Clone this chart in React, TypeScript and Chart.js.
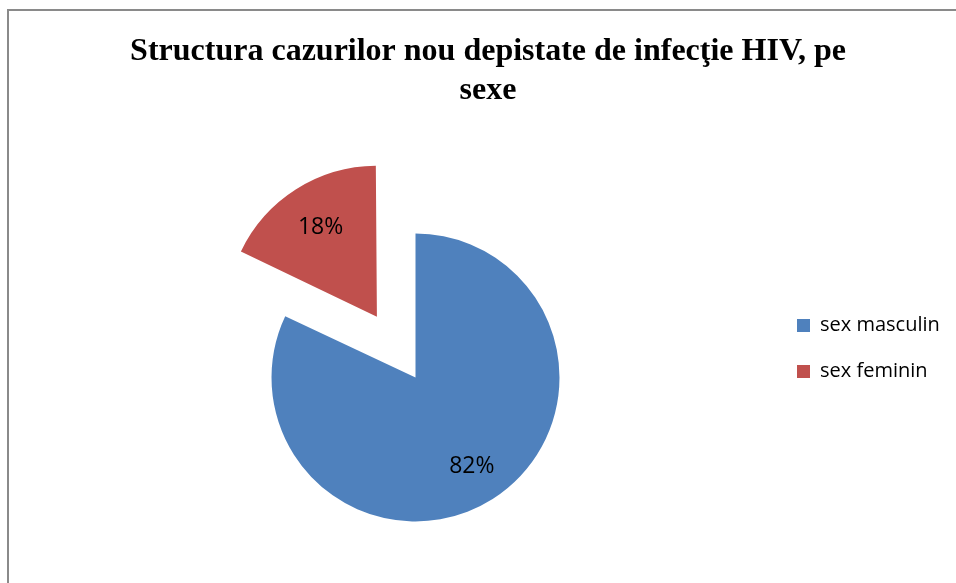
import React, { useEffect, useRef } from "react";
import { Chart, registerables } from "chart.js";

Chart.register(...registerables);

const categories = ["sex masculin", "sex feminin"];
const values = [82, 18];
const valueLabels = ["82%", "18%"];
const colors = ["#4F81BD", "#C0504D"];
const explode = [0, 288];
const titleLines = ["Structura cazurilor nou depistate de infecţie HIV, pe", "sexe"];

const dataLabelPlugin = {
  id: "dataLabels",
  afterDatasetsDraw(chart: any) {
    const ctx = chart.ctx;
    const meta = chart.getDatasetMeta(0);
    ctx.save();
    ctx.font = "23px 'Open Sans'";
    ctx.fillStyle = "#000";
    ctx.textAlign = "center";
    ctx.textBaseline = "middle";
    meta.data.forEach((arc: any, i: number) => {
      const p = arc.getProps(["x", "y", "startAngle", "endAngle", "outerRadius"], true);
      const mid = (p.startAngle + p.endAngle) / 2;
      const off = (arc.options.offset || 0) / 4;
      const cx = p.x + Math.cos(mid) * off;
      const cy = p.y + Math.sin(mid) * off;
      const r = p.outerRadius * 0.73;
      ctx.fillText(valueLabels[i], cx + Math.cos(mid) * r, cy + Math.sin(mid) * r);
    });
    ctx.restore();
  },
};

export default function App() {
  const ref = useRef<HTMLCanvasElement | null>(null);
  useEffect(() => {
    if (!ref.current) return;
    const chart = new Chart(ref.current, {
      type: "pie",
      data: {
        labels: categories,
        datasets: [
          {
            data: values,
            backgroundColor: colors,
            borderWidth: 0,
            offset: explode,
            radius: 144,
          } as any,
        ],
      },
      options: {
        responsive: false,
        animation: false,
        radius: 144,
        layout: { padding: { left: 35, right: 15, top: 139, bottom: 0 } },
        plugins: {
          title: {
            display: true,
            text: titleLines,
            color: "#000",
            font: { family: "'Liberation Serif'", size: 32, weight: "bold", lineHeight: 39 / 32 },
            padding: { top: -106.5, bottom: 61.5 },
          },
          legend: {
            position: "right",
            maxWidth: 145,
            labels: {
              boxWidth: 13,
              boxHeight: 13,
              padding: 1,
              color: "#000",
              font: { family: "'Open Sans'", size: 20, lineHeight: 45 / 20 },
              generateLabels: () =>
                categories.map((c, i) => ({
                  text: [c],
                  fillStyle: colors[i],
                  strokeStyle: colors[i],
                  lineWidth: 0,
                  hidden: false,
                  index: i,
                })),
            },
          },
          tooltip: { enabled: false },
        },
      } as any,
      plugins: [dataLabelPlugin],
    });
    return () => chart.destroy();
  }, []);

  return (
    <div
      style={{
        position: "fixed",
        left: 0,
        top: 0,
        width: 956,
        height: 583,
        overflow: "hidden",
        background: "#fff",
      }}
    >
      <div
        style={{
          position: "absolute",
          left: 7,
          top: 9,
          width: 1100,
          height: 800,
          border: "2px solid #8a8a8a",
          boxSizing: "border-box",
        }}
      />
      <canvas
        ref={ref}
        width={956}
        height={583}
        style={{ position: "absolute", left: 0, top: 0, width: 956, height: 583 }}
      />
    </div>
  );
}
